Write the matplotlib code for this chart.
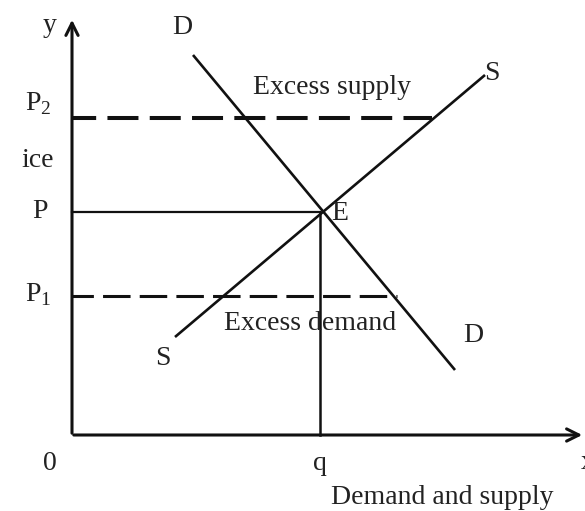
import matplotlib.pyplot as plt

plt.rcParams['font.family'] = ['Liberation Serif', 'DejaVu Serif']
plt.rcParams['mathtext.fontset'] = 'custom'
plt.rcParams['mathtext.rm'] = 'Liberation Serif'

# price levels and equilibrium quantity
q = 248
P = 223
P1 = 139
P2 = 317

# curve end points (quantity, price)
D_x = [121, 383]
D_y = [380, 65]
S_x = [103, 413]
S_y = [98, 360]

# where the dashed price lines stop
p2_end = 360
p1_end = 325

x_max = 513
y_max = 418

fig = plt.figure(figsize=(5.85, 5.11), dpi=100)
ax = fig.add_axes([0, 0, 1, 1])
ax.set_xlim(-72, 513)
ax.set_ylim(-76, 435)
ax.axis('off')

k = '#111111'
tc = '#222222'
# axes with open arrow heads
ax.annotate('', xy=(0, y_max), xytext=(0, -1),
            arrowprops=dict(arrowstyle='->', lw=2.2, color=k, mutation_scale=22))
ax.annotate('', xy=(x_max, 0), xytext=(-1, 0),
            arrowprops=dict(arrowstyle='->', lw=2.2, color=k, mutation_scale=22))

# demand and supply curves
ax.plot(D_x, D_y, color=k, lw=1.9, solid_capstyle='butt')
ax.plot(S_x, S_y, color=k, lw=1.9, solid_capstyle='butt')

# equilibrium lines
ax.plot([0, q], [P, P], color=k, lw=1.6)
ax.plot([q, q], [0, P], color=k, lw=1.8)

# excess supply / demand price lines
ax.plot([0, p2_end], [P2, P2], color=k, lw=2.9, dash_capstyle='butt',
        linestyle=(1.7, (7.7, 2.8)))
ax.plot([0, p1_end], [P1, P1], color=k, lw=2.2, dash_capstyle='butt',
        linestyle=(2.0, (9.0, 3.0)))

fs = 20
ax.text(-22, 410, 'y', fontsize=fs, ha='center', va='center', color=tc)
ax.text(-34, 331, r'P$_{\mathregular{2}}$', fontsize=fs, ha='center', va='center', color=tc)
ax.text(-34, 275, 'ice', fontsize=fs, ha='center', va='center', color=tc)
ax.text(-32, 224, 'P', fontsize=fs, ha='center', va='center', color=tc)
ax.text(-34, 140, r'P$_{\mathregular{1}}$', fontsize=fs, ha='center', va='center', color=tc)
ax.text(-22, -28, '0', fontsize=fs, ha='center', va='center', color=tc)
ax.text(q, -28, 'q', fontsize=fs, ha='center', va='center', color=tc)
ax.text(442 - 72, -62, 'Demand and supply', fontsize=fs, ha='center', va='center', color=tc)
ax.text(509, -27, 'x', fontsize=fs, ha='left', va='center', color=tc)

ax.text(110, 408, 'D', fontsize=fs, ha='center', va='center', color=tc)
ax.text(401, 100, 'D', fontsize=fs, ha='center', va='center', color=tc)
ax.text(420, 362, 'S', fontsize=fs, ha='center', va='center', color=tc)
ax.text(91, 77, 'S', fontsize=fs, ha='center', va='center', color=tc)
ax.text(268, 222, 'E', fontsize=fs, ha='center', va='center', color=tc)
ax.text(260, 348, 'Excess supply', fontsize=fs, ha='center', va='center', color=tc)
ax.text(238, 112, 'Excess demand', fontsize=fs, ha='center', va='center', color=tc)

fig.savefig('out.png', dpi=100)
